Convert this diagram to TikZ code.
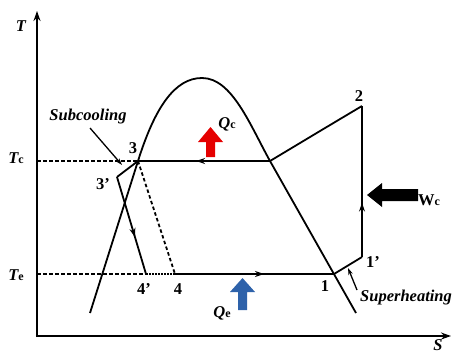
\documentclass[tikz,border=0pt]{standalone}
\usepackage{fontspec}
\setmainfont{Liberation Serif}
\usetikzlibrary{arrows.meta,decorations.markings}
\begin{document}
\begin{tikzpicture}[x=1pt,y=-1pt,
  curve/.style={line width=1.8pt},
  axisline/.style={line width=2.2pt,-{Stealth[length=10pt,width=7pt]}},
  dashline/.style={line width=1.8pt,dash pattern=on 3.5pt off 2.5pt},
  dotline/.style={line width=1.4pt,dash pattern=on 1.5pt off 1.5pt},
  lbl/.style={font=\fontsize{16.5}{16.5}\selectfont\bfseries\itshape,inner sep=0pt},
  num/.style={font=\fontsize{16.5}{16.5}\selectfont\bfseries,inner sep=0pt},
  note/.style={line width=1.3pt,-{Stealth[length=7pt,width=4.5pt]}},
  midarrow/.style={postaction={decorate},decoration={markings,
     mark=at position #1 with {\arrow{Stealth[length=9pt,width=6pt]}}}}
]
\useasboundingbox (0,0) rectangle (454,353);
\newcommand{\sub}[1]{\raisebox{-0.5pt}{\fontsize{12}{12}\selectfont\upshape\bfseries #1}}
% axes
\coordinate (o) at (37,336);
\coordinate (ytop) at (37,11);
\coordinate (xend) at (451,336);
\draw[axisline] ([yshift=-1.1pt]o) -- (ytop);
\draw[axisline] ([xshift=-1.1pt]o) -- (xend);
\node[lbl] (tax) at (21,26) {T};
\node[lbl] (sax) at (438,345) {S};
% key points
\coordinate (p3) at (138,161);
\coordinate (p3p) at (117,177);
\coordinate (p4p) at (146,274);
\coordinate (p4) at (175,274);
\coordinate (p1) at (334,274);
\coordinate (p1p) at (362,257);
\coordinate (p2) at (362,106);
\coordinate (pv) at (270,161);
\coordinate (tc0) at (37,161);
\coordinate (te0) at (37,274);
\coordinate (dl) at (90,313);
\coordinate (dr) at (356,313);
\coordinate (top) at (202,78);
% dome
\draw[curve] (dl) -- (p3) .. controls (155,107) and (175,78) .. (top)
  .. controls (232,78) and (250,125) .. (pv) -- (dr);
% dashed lines
\draw[dashline] (tc0) -- (p3);
\draw[dashline] (te0) -- (p4p);
\draw[dotline] (p4p) -- (p4);
\draw[dashline] (p3) -- (p4);
% cycle
\draw[curve] (p3) -- (p3p);
\draw[curve,midarrow=0.62] (p3p) -- (p4p);
\draw[curve,midarrow=0.56] (p4) -- (p1);
\draw[curve] (p1) -- (p1p);
\draw[curve,midarrow=0.36] (p1p) -- (p2);
\draw[curve] (p2) .. controls (335,122) and (300,143) .. (pv);
\draw[curve,midarrow=0.56] (pv) -- (p3);
% heat / work arrows
\fill[red!90!black] (206,157) -- (215,157) -- (215,142) -- (223,142) -- (210.5,127)
  -- (198,142) -- (206,142) -- cycle;
\fill[fill={rgb,255:red,46;green,98;blue,170}] (238,310) -- (247,310) -- (247,292) -- (255,292)
  -- (242.5,278) -- (230,292) -- (238,292) -- cycle;
\fill[black] (367,195) -- (382,183) -- (382,189) -- (418,189) -- (418,201) -- (382,201)
  -- (382,207) -- cycle;
% labels
\node[lbl] (qc) at (227,124) {Q\sub{c}};
\node[lbl] (qe) at (222,313) {Q\sub{e}};
\node[num] (wc) at (429,200) {W\sub{c}};
\node[lbl] (tc) at (16,158) {T\sub{c}};
\node[lbl] (te) at (16,275) {T\sub{e}};
\node[num] (l3) at (133,148) {3};
\node[num] (l3p) at (103,184) {3'};
\node[num] (l4p) at (144,289) {4'};
\node[num] (l4) at (178,289) {4};
\node[num] (l1) at (325,286) {1};
\node[num] (l1p) at (373,262) {1'};
\node[num] (l2) at (359,96) {2};
\node[lbl] (subc) at (88,117) {Subcooling};
\node[lbl] (suph) at (406,298) {Superheating};
\coordinate (sca) at (90,128);
\coordinate (scb) at (122,165);
\draw[note] (sca) -- (scb);
\coordinate (sha) at (357,290);
\coordinate (shb) at (348,268);
\draw[note] (sha) -- (shb);
\end{tikzpicture}
\end{document}
